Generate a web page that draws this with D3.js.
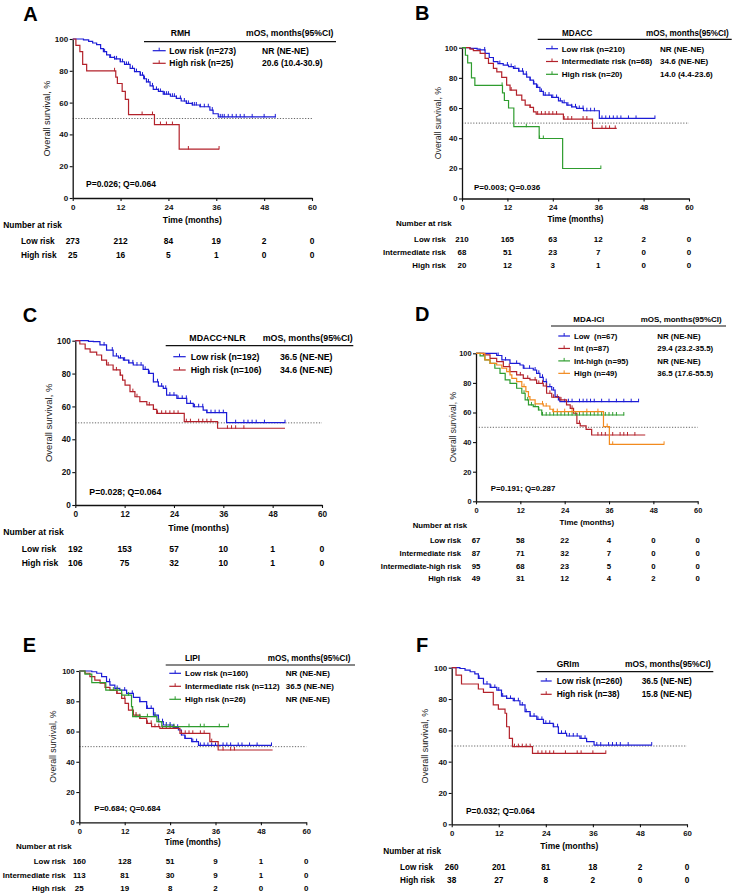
<!DOCTYPE html>
<html>
<head>
<meta charset="utf-8">
<script src="https://cdn.jsdelivr.net/npm/d3@7"></script>
<style>
body{margin:0;background:#fff}
svg text{font-family:"Liberation Sans",Arial,Helvetica,sans-serif}
</style>
</head>
<body>
<svg id="drawing_region"></svg>
<script>
// axis ticks
const timeTicks = [0, 12, 24, 36, 48, 60]
const survTicks = [0, 20, 40, 60, 80, 100]

// ---- A: RMH ----
const A_low = [[0,100],[2.7,99.5],[4,98.5],[5,97.5],[6,96.5],[7,94],[7.7,92],[8.5,90],[9.3,88.5],[10.5,87.5],[11.9,85.7],[13,84],[14.4,81.5],[15.5,79.5],[16.9,77.3],[17.8,75],[18.5,73],[19.4,70.5],[20.2,68.3],[21.5,67],[22.7,65.3],[24.5,64],[26,62.6],[27.2,61],[28.5,59.5],[30,58.5],[31.9,57.4],[34.4,55.3],[35.2,53],[36.5,51],[50.9,51]]
const A_high = [[0,100],[0.8,96],[1.8,92],[2.5,84],[3.5,80],[10.8,76],[11.2,72],[12.4,67],[13.2,62],[14,52.5],[20.5,46.2],[26.7,30.8],[36.7,30.8]]
const A_low_cens = [8,9.5,10.5,11,12,12.5,13.5,14,15,15.5,16,17,17.5,18,18.5,19,20,21,21.5,22,23,23.5,24,25,25.5,26,27,28,28.5,29,30,30.5,31,32,33,34,35,37,37.5,38,39,40,41,42,43,45,48,50.8]
const A_high_cens = [10.5,17.4,20,22,23.5,25,29,36.7]
const A_risk_low = [273,212,84,19,2,0]
const A_risk_high = [25,16,5,1,0,0]
const A_labels = ['Low risk (n=273)','High risk (n=25)']
const A_mos = ['NR (NE-NE)','20.6 (10.4-30.9)']

// ---- B: MDACC ----
const B_low = [[0,100],[2.1,99.5],[4,99],[4.8,98.5],[6.1,96.2],[7.2,93.5],[8.3,90.7],[9.5,89.5],[10.9,88.5],[12.3,87.5],[13.6,86.3],[15,84.5],[16.2,82.5],[17.1,80.5],[18,78.5],[18.9,76],[19.7,73.7],[20.6,71],[21.5,68.6],[23.7,67],[25.5,64.8],[26.5,63.5],[27.7,61.9],[29,60.8],[30.3,59.7],[32.1,58.2],[36.3,53.1],[51,53.1]]
const B_int = [[0,100],[2.1,99],[3,98],[4.8,96.2],[6.1,92.9],[7,89.6],[8.3,86.3],[9.2,84],[10.5,80.3],[11.8,75.2],[12.7,71.9],[14.4,68.6],[15.8,65.3],[16.7,61.9],[18,60.4],[18.9,57.5],[19.6,56],[26.8,52.7],[34.5,46.5],[40.9,46.5]]
const B_high = [[0,100],[0.9,95],[1.5,90],[2.5,80],[3.4,75],[10.7,70],[11.2,65],[12.3,60],[13.7,47.6],[20.4,39.8],[26.6,19.9],[36.7,19.9]]
const B_low_cens = [6,10,12,13,14,15,16,17,18,19,20,21,22,23,24,25,26,27,28,29,30,31,32,33,34,35,37,38,39,40,41,42,44,46,51]
const B_int_cens = [13,18,20,21,22,23,24,25,27,28,29,32,33,37,38,39,40.5]
const B_high_cens = [10.6,17,20.5,21.5,36.7]
const B_risk_low = [210,165,63,12,2,0]
const B_risk_int = [68,51,23,7,0,0]
const B_risk_high = [20,12,3,1,0,0]
const B_labels = ['Low risk (n=210)','Intermediate risk (n=68)','High risk (n=20)']
const B_mos = ['NR (NE-NE)','34.6 (NE-NE)','14.0 (4.4-23.6)']

// ---- C: MDACC+NLR ----
const C_low = [[0,100],[3.2,99.6],[4.4,99.4],[6,97.4],[7.6,94.3],[9.2,90.7],[10.5,89.5],[11.7,88.2],[13,86.5],[14.1,85.2],[16.5,82.6],[17.8,80.1],[19,75],[20.2,72.4],[21.4,71],[22.2,66.9],[24.7,64.9],[27.1,61.9],[28.7,59.8],[31.1,57.8],[32,56.2],[36.8,50.1],[51,50.1]]
const C_high = [[0,100],[1.1,98],[2.4,95],[3.6,93],[5.2,91.3],[6.4,88.2],[7.6,85.2],[9.2,82.2],[10.9,79.1],[11.5,76],[12.1,73],[13.3,69],[14.5,65.9],[15.7,62.9],[17.4,60.9],[19,58.2],[19.8,55.8],[26.5,50.7],[34.6,46.7],[51,46.7]]
const C_low_cens = [7,9,10,11,12,13,14,15,16,17,18,19,20,21,22,23,24,25,26,27,28,29,30,31,32,33,34,35,36,39,41,42,43,44,46,51]
const C_high_cens = [8,10,11,14,15,18,19,20,21,22,23,24,25,27,28,30,31,32,33,37,38,39,41]
const C_risk_low = [192,153,57,10,1,0]
const C_risk_high = [106,75,32,10,1,0]
const C_labels = ['Low risk (n=192)','High risk (n=106)']
const C_mos = ['36.5 (NE-NE)','34.6 (NE-NE)']

// ---- D: MDA-ICI ----
const D_low = [[0,100],[5.6,98.5],[7,95.5],[9.2,93.2],[11.9,92.1],[12.8,89.9],[15.5,88.7],[16.4,86.5],[17.3,83.8],[18.2,80.9],[19.1,77.5],[20.5,75.2],[21.4,70.7],[22.3,68.5],[22.7,67.3],[44,67.3]]
const D_int = [[0,100],[2,98.9],[3.8,96.6],[5.6,94.4],[7.4,91],[9.2,87.6],[11,85.4],[12.8,83.1],[14.6,82],[16.4,79.7],[18.2,77.9],[19.1,73],[20.5,70.3],[22.7,68.5],[24.5,65.1],[25.5,62.8],[26.4,59.5],[27.3,52.7],[28.2,50.9],[29.8,48.6],[31.3,44.8],[45.8,44.8]]
const D_inthigh = [[0,100],[1.1,98.2],[2.4,95.5],[3.8,93.2],[5.1,89.9],[6.5,86.5],[7.9,82],[9.2,79.7],[11,76.4],[12.4,73],[13.3,68.5],[14.2,65.1],[15.5,64],[16.9,61.7],[17.8,58.3],[40.1,58.3]]
const D_high = [[0,100],[2.4,95.5],[3.8,93.2],[5.6,92.1],[7,89.9],[8.3,87.6],[9.2,85.4],[9.7,83.1],[11,80.9],[12.4,77.5],[13.5,74.1],[14.2,70.7],[14.6,68.5],[16,65.8],[18.2,64.4],[20,62.2],[20.8,60.6],[34.5,50.5],[36.1,38.5],[50.9,38.5]]
const D_low_cens = [6,8,11,13,14.5,16,17,18,19,20,21,22.5,24,25,26,28,29,30,31,32,34,36,38,40,42,44]
const D_int_cens = [9,12,14,16,17,18,19,20,21,22,23,26,28,33,34,35,37,39,40,41,43]
const D_inthigh_cens = [13,14,15,16,17,18,19,20,21,22,23,24,25,26,27,28,29,30,31,32,33,34,35,36,37,38,40]
const D_high_cens = [9,13,18,19,21,22,24,26,30,33,35.5,37,50.9]
const D_risk_low = [67,58,22,4,0,0]
const D_risk_int = [87,71,32,7,0,0]
const D_risk_inthigh = [95,68,23,5,0,0]
const D_risk_high = [49,31,12,4,2,0]
const D_labels = ['Low  (n=67)','Int (n=87)','Int-high (n=95)','High (n=49)']
const D_mos = ['NR (NE-NE)','29.4 (23.2-35.5)','NR (NE-NE)','36.5 (17.6-55.5)']

// ---- E: LIPI ----
const E_low = [[0,100],[3.3,99.5],[4.6,98.5],[5.9,96.3],[7.2,93],[8.1,90.7],[9.4,88.5],[10.7,87.4],[12.5,85.2],[14.3,82.6],[16,79.7],[17.8,75.3],[19.6,70.9],[20.9,66.5],[22.2,64.3],[24.8,62.8],[26.2,61],[27,57.7],[27.9,55.5],[29.7,53.3],[31.5,50.8],[50.8,50.8]]
const E_int = [[0,100],[1.5,98.5],[2.8,96.3],[4.1,94],[5.5,91.9],[6.8,89.2],[8.1,87.4],[9.9,85.2],[11.2,81.9],[12.1,78.6],[13,74.2],[14.3,70.9],[16,68.7],[17.8,65.4],[19.1,63.2],[21.3,62.1],[26.6,58.8],[34.5,53.3],[36.7,47.8],[51.1,47.8]]
const E_high = [[0,100],[1.5,98],[3.3,92.3],[7,87.4],[11.2,84.1],[13.8,76.4],[14.1,69.8],[20.5,66.5],[21.8,63.2],[39.4,63.2]]
const E_low_cens = [8,10,12,14,16,18,19,20,21,22,23,24,25,26,27,28,30,31,32,33,34,35,36,38,39,40,42,43,45,47,50.8]
const E_int_cens = [10,12,14,15,16,18,19,20,21,22,23,24,25,27,28,29,30,32,33,35,38,40,41]
const E_high_cens = [9,10,13,15,16,18,20,21,23,24,25,29,32,33,37,39.4]
const E_risk_low = [160,128,51,9,1,0]
const E_risk_int = [113,81,30,9,1,0]
const E_risk_high = [25,19,8,2,0,0]
const E_labels = ['Low risk (n=160)','Intermediate risk (n=112)','High risk (n=26)']
const E_mos = ['NR (NE-NE)','36.5 (NE-NE)','NR (NE-NE)']

// ---- F: GRIm ----
const F_low = [[0,100],[2.1,99.5],[3.4,98.5],[4.7,97.4],[5.9,96],[6.8,93.2],[8.1,89.6],[9.8,87.4],[11.5,85.7],[12.7,81.9],[14,80.4],[15.7,78.9],[17.4,76.2],[18.7,71.9],[20,69.1],[21.7,67],[23.4,64.5],[25.9,62.3],[27.2,58.1],[29.3,56.4],[32.7,54.9],[34.4,52.8],[36.3,50.6],[51,50.6]]
const F_high = [[0,100],[1.1,95.3],[2.5,89.6],[6.8,86.4],[8.1,84.3],[10.6,76.2],[11.9,73.6],[13.6,70.9],[14,62.3],[14.7,54.9],[15.5,49.6],[20.6,45.3],[39.3,45.3]]
const F_low_cens = [7,9,10,11,12,13,14,15,16,17,18,19,20,21,22,23,24,25,26,27,28,29,30,31,32,33,34,37,38,40,41,42,43,45,51]
const F_high_cens = [16,17,18,19,20,22,23,24,25,26,29,32,33,36,39.3]
const F_risk_low = [260,201,81,18,2,0]
const F_risk_high = [38,27,8,2,0,0]
const F_labels = ['Low risk (n=260)','High risk (n=38)']
const F_mos = ['36.5 (NE-NE)','15.8 (NE-NE)']

const BLUE = '#1c1cd6', RED = '#b3222b', GREEN = '#2e9c2e', ORANGE = '#f28a1e'

class KMPanel{
    constructor(config, data){
        this.config = config
        this.data = data
        this.init()
    }

    init(){
        let self = this
        const c = self.config
        self.g = d3.select('#drawing_region').append('g')
        self.xscale = d3.scaleLinear().domain([0, 60]).range([c.plot.l, c.plot.r])
        self.yscale = d3.scaleLinear().domain([0, 100]).range([c.plot.b, c.plot.t])
        self.line = d3.line()
            .x(d => self.xscale(d[0]))
            .y(d => self.yscale(d[1]))
            .curve(d3.curveStepAfter)
        // each panel was shrunk a little differently, text follows the plot width
        self.k = (c.plot.r - c.plot.l) / 239.3
    }

    survAt(curve, t){
        let s = curve[0][1]
        curve.forEach(p => { if (p[0] <= t) s = p[1] })
        return s
    }

    render(){
        let self = this
        const c = self.config, g = self.g, k = self.k

        // panel letter
        g.append('text').attr('x', c.letter[0]).attr('y', c.letter[1])
            .attr('font-size', 20).attr('font-weight', 'bold').text(c.name)

        // 50% reference
        g.append('line')
            .attr('x1', self.xscale(0)).attr('x2', self.xscale(60))
            .attr('y1', self.yscale(50)).attr('y2', self.yscale(50))
            .attr('stroke', '#555').attr('stroke-width', 0.9)
            .attr('stroke-dasharray', '1.2,1.6')

        // axes
        const yAxis = g.append('g').attr('transform', `translate(${c.plot.l},0)`)
            .call(d3.axisLeft(self.yscale).tickValues(survTicks).tickSize(3).tickSizeOuter(0).tickPadding(1.5))
        const xAxis = g.append('g').attr('transform', `translate(0,${c.plot.b})`)
            .call(d3.axisBottom(self.xscale).tickValues(timeTicks).tickSize(3).tickSizeOuter(0).tickPadding(3.5))
        ;[yAxis, xAxis].forEach(a => {
            a.select('.domain').attr('stroke', '#111').attr('stroke-width', 1.3)
            a.selectAll('.tick line').attr('stroke', '#111').attr('stroke-width', 1.1)
            a.selectAll('.tick text').attr('font-size', 8 * k).attr('font-weight', 'bold')
                .attr('fill', '#111').attr('font-family', '"Liberation Sans",Arial,sans-serif')
        })

        g.append('text')
            .attr('transform', `translate(${c.yLabelX},${(c.plot.t + c.plot.b) / 2}) rotate(-90)`)
            .attr('text-anchor', 'middle').attr('dy', '0.35em')
            .attr('font-size', 9.2 * k).attr('fill', '#222').text('Overall survival, %')
        g.append('text').attr('x', (c.plot.l + c.plot.r) / 2).attr('y', c.xTitleY)
            .attr('text-anchor', 'middle').attr('dy', '0.35em')
            .attr('font-size', 8.6 * k).attr('font-weight', 'bold').text('Time (months)')

        // curves
        self.data.forEach(d => {
            g.append('path').datum(d.curve)
                .attr('d', self.line).attr('fill', 'none')
                .attr('stroke', d.color).attr('stroke-width', 1.2)
            g.selectAll(null).data(d.cens).enter()
                .append('line')
                .attr('x1', t => self.xscale(t)).attr('x2', t => self.xscale(t))
                .attr('y1', t => self.yscale(self.survAt(d.curve, t)) - 3)
                .attr('y2', t => self.yscale(self.survAt(d.curve, t)) + 0.5)
                .attr('stroke', d.color).attr('stroke-width', 1)
        })

        // P / Q text
        g.append('text').attr('x', c.pText[0]).attr('y', c.pText[1]).attr('dy', '0.35em')
            .attr('font-size', 8.5 * k).attr('font-weight', 'bold').text(c.pq)

        // legend
        const L = c.leg
        g.append('line').attr('x1', L.x1).attr('x2', L.x2).attr('y1', L.lineY).attr('y2', L.lineY)
            .attr('stroke', '#111').attr('stroke-width', 1.2)
        g.append('text').attr('x', L.titleX).attr('y', L.titleY).attr('dy', '0.35em')
            .attr('font-size', 8.6 * k).attr('font-weight', 'bold').text(c.cohort)
        g.append('text').attr('x', L.mosHX).attr('y', L.titleY).attr('dy', '0.35em')
            .attr('font-size', 8.6 * k).attr('font-weight', 'bold').text('mOS, months(95%CI)')
        self.data.forEach((d, i) => {
            const y = L.entryY0 + i * L.dy
            g.append('line').attr('x1', L.sx1).attr('x2', L.sx2).attr('y1', y).attr('y2', y)
                .attr('stroke', d.color).attr('stroke-width', 1.2)
            g.append('line').attr('x1', (L.sx1 + L.sx2) / 2).attr('x2', (L.sx1 + L.sx2) / 2)
                .attr('y1', y - 3).attr('y2', y).attr('stroke', d.color).attr('stroke-width', 1)
            g.append('text').attr('x', L.tx).attr('y', y).attr('dy', '0.35em')
                .attr('font-size', 8.5 * k).attr('font-weight', 'bold').style('white-space', 'pre')
                .text(d.label)
            g.append('text').attr('x', L.mx).attr('y', y).attr('dy', '0.35em')
                .attr('font-size', 8.5 * k).attr('font-weight', 'bold').text(d.mos)
        })

        // number at risk table
        g.append('text').attr('x', c.nrisk[0]).attr('y', c.nrisk[1]).attr('dy', '0.35em')
            .attr('font-size', 8.4 * k).attr('font-weight', 'bold').text('Number at risk')
        self.data.forEach((d, i) => {
            const y = c.rowY[i]
            g.append('text').attr('x', c.rowX).attr('y', y).attr('dy', '0.35em')
                .attr('text-anchor', c.rowAnchor)
                .attr('font-size', 8.3 * k).attr('font-weight', 'bold').text(d.row)
            g.selectAll(null).data(d.risk).enter()
                .append('text')
                .attr('x', (v, j) => self.xscale(timeTicks[j]))
                .attr('y', y).attr('dy', '0.35em').attr('text-anchor', 'middle')
                .attr('font-size', 8.4 * k).attr('font-weight', 'bold').text(v => v)
        })
    }
}

d3.select('#drawing_region').attr('width', 735).attr('height', 895)

const panels = [
    {
        config: {name: 'A', letter: [23.3, 20.7], cohort: 'RMH', pq: 'P=0.026; Q=0.064',
            plot: {l: 72.7, r: 312, t: 39, b: 198}, yLabelX: 46.7, pText: [86, 184.3],
            xTitleY: 220, nrisk: [3.3, 225], rowX: 21, rowAnchor: 'start', rowY: [241, 254.7],
            leg: {lineY: 41.7, x1: 144, x2: 336, titleX: 170.7, titleY: 32.7, mosHX: 246,
                entryY0: 50.7, dy: 12.6, sx1: 152.7, sx2: 165.7, tx: 169.3, mx: 262}},
        data: [
            {curve: A_low, cens: A_low_cens, color: BLUE, label: A_labels[0], mos: A_mos[0], row: 'Low risk', risk: A_risk_low},
            {curve: A_high, cens: A_high_cens, color: RED, label: A_labels[1], mos: A_mos[1], row: 'High risk', risk: A_risk_high}
        ]
    },
    {
        config: {name: 'B', letter: [415, 20], cohort: 'MDACC', pq: 'P=0.003; Q=0.036',
            plot: {l: 462, r: 689, t: 47.7, b: 198.5}, yLabelX: 438.3, pText: [474, 186.7],
            xTitleY: 219.3, nrisk: [396, 223.3], rowX: 446, rowAnchor: 'end', rowY: [239.3, 252.3, 265.7],
            leg: {lineY: 39.3, x1: 537.7, x2: 731.7, titleX: 562, titleY: 32.7, mosHX: 646,
                entryY0: 48.7, dy: 12.8, sx1: 546, sx2: 558, tx: 561.7, mx: 660}},
        data: [
            {curve: B_low, cens: B_low_cens, color: BLUE, label: B_labels[0], mos: B_mos[0], row: 'Low risk', risk: B_risk_low},
            {curve: B_int, cens: B_int_cens, color: RED, label: B_labels[1], mos: B_mos[1], row: 'Intermediate risk', risk: B_risk_int},
            {curve: B_high, cens: B_high_cens, color: GREEN, label: B_labels[2], mos: B_mos[2], row: 'High risk', risk: B_risk_high}
        ]
    },
    {
        config: {name: 'C', letter: [22.7, 321.7], cohort: 'MDACC+NLR', pq: 'P=0.028; Q=0.064',
            plot: {l: 75.3, r: 322, t: 340.7, b: 505}, yLabelX: 48.3, pText: [89.3, 492.3],
            xTitleY: 527.7, nrisk: [3.3, 532.3], rowX: 21.7, rowAnchor: 'start', rowY: [549.3, 563],
            leg: {lineY: 345.7, x1: 165.7, x2: 353.3, titleX: 189.3, titleY: 338, mosHX: 262.7,
                entryY0: 356.7, dy: 13.3, sx1: 173.3, sx2: 185.7, tx: 190.7, mx: 280}},
        data: [
            {curve: C_low, cens: C_low_cens, color: BLUE, label: C_labels[0], mos: C_mos[0], row: 'Low risk', risk: C_risk_low},
            {curve: C_high, cens: C_high_cens, color: RED, label: C_labels[1], mos: C_mos[1], row: 'High risk', risk: C_risk_high}
        ]
    },
    {
        config: {name: 'D', letter: [415, 320.7], cohort: 'MDA-ICI', pq: 'P=0.191; Q=0.287',
            plot: {l: 476, r: 697.7, t: 353.3, b: 501.3}, yLabelX: 452.7, pText: [490.7, 488.3],
            xTitleY: 522, nrisk: [412.7, 525.5], rowX: 461, rowAnchor: 'end', rowY: [540.7, 553.3, 566, 578.3],
            leg: {lineY: 326, x1: 551, x2: 726, titleX: 573.3, titleY: 319, mosHX: 640.7,
                entryY0: 336, dy: 12.45, sx1: 558.3, sx2: 570, tx: 574, mx: 657.3}},
        data: [
            {curve: D_low, cens: D_low_cens, color: BLUE, label: D_labels[0], mos: D_mos[0], row: 'Low risk', risk: D_risk_low},
            {curve: D_int, cens: D_int_cens, color: RED, label: D_labels[1], mos: D_mos[1], row: 'Intermediate risk', risk: D_risk_int},
            {curve: D_inthigh, cens: D_inthigh_cens, color: GREEN, label: D_labels[2], mos: D_mos[2], row: 'Intermediate-high risk', risk: D_risk_inthigh},
            {curve: D_high, cens: D_high_cens, color: ORANGE, label: D_labels[3], mos: D_mos[3], row: 'High risk', risk: D_risk_high}
        ]
    },
    {
        config: {name: 'E', letter: [22.7, 651.7], cohort: 'LIPI', pq: 'P=0.684; Q=0.684',
            plot: {l: 79.3, r: 306.3, t: 671, b: 822.3}, yLabelX: 53.3, pText: [94.3, 808.3],
            xTitleY: 842.3, nrisk: [16, 846.7], rowX: 65.7, rowAnchor: 'end', rowY: [861.7, 875, 888.3],
            leg: {lineY: 665, x1: 165.7, x2: 355, titleX: 185, titleY: 658.3, mosHX: 267.7,
                entryY0: 673.3, dy: 13, sx1: 169.3, sx2: 181, tx: 185, mx: 285.7}},
        data: [
            {curve: E_low, cens: E_low_cens, color: BLUE, label: E_labels[0], mos: E_mos[0], row: 'Low risk', risk: E_risk_low},
            {curve: E_int, cens: E_int_cens, color: RED, label: E_labels[1], mos: E_mos[1], row: 'Intermediate risk', risk: E_risk_int},
            {curve: E_high, cens: E_high_cens, color: GREEN, label: E_labels[2], mos: E_mos[2], row: 'High risk', risk: E_risk_high}
        ]
    },
    {
        config: {name: 'F', letter: [416, 651.7], cohort: 'GRIm', pq: 'P=0.032; Q=0.064',
            plot: {l: 451.7, r: 687, t: 667.7, b: 824.3}, yLabelX: 425, pText: [466, 810.7],
            xTitleY: 846, nrisk: [383.3, 850.7], rowX: 400, rowAnchor: 'start', rowY: [866.7, 880],
            leg: {lineY: 671.7, x1: 536.7, x2: 713.3, titleX: 556.7, titleY: 664, mosHX: 625,
                entryY0: 681, dy: 13.3, sx1: 540.7, sx2: 551.7, tx: 556.7, mx: 641.7}},
        data: [
            {curve: F_low, cens: F_low_cens, color: BLUE, label: F_labels[0], mos: F_mos[0], row: 'Low risk', risk: F_risk_low},
            {curve: F_high, cens: F_high_cens, color: RED, label: F_labels[1], mos: F_mos[1], row: 'High risk', risk: F_risk_high}
        ]
    }
]

panels.forEach(p => {
    const km = new KMPanel(p.config, p.data)
    km.render()
})
</script>
</body>
</html>
